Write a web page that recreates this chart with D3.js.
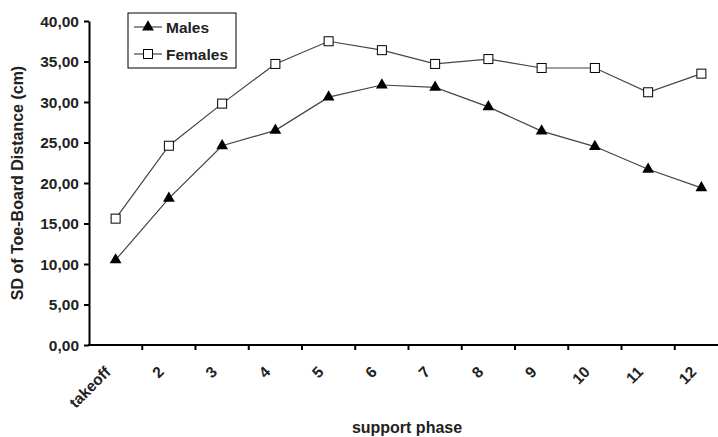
<!DOCTYPE html>
<html><head><meta charset="utf-8">
<script src="https://cdn.jsdelivr.net/npm/d3@7"></script>
<style>body{margin:0;background:#fff}svg{display:block}text{font-family:"Liberation Sans",Arial,sans-serif;font-weight:bold;fill:#222}</style>
</head><body><svg id="c" width="718" height="437"></svg>
<script>
const categories = ["takeoff","2","3","4","5","6","7","8","9","10","11","12"];
const males =   [10.5,18.1,24.6,26.5,30.6,32.1,31.8,29.4,26.4,24.5,21.7,19.4];
const females = [15.6,24.6,29.8,34.7,37.5,36.4,34.7,35.3,34.2,34.2,31.2,33.5];
const yTicks = [0,5,10,15,20,25,30,35,40];
const seriesNames = ["Males","Females"];

const svg = d3.select("#c");
const x0 = 89, bw = 53.25;
const x = d3.scaleBand().domain(categories).range([x0, x0 + bw*categories.length]);
const y = d3.scaleLinear().domain([0,40]).range([345,21]);
const fmt = d => d.toFixed(2).replace(".", ",");

// y axis
const ya = svg.append("g").attr("transform",`translate(${x0},0)`)
  .call(d3.axisLeft(y).tickValues(yTicks).tickSize(5).tickSizeOuter(0).tickFormat(fmt));
ya.select(".domain").attr("stroke","#000").attr("stroke-width",2);
ya.selectAll(".tick line").attr("stroke","#000").attr("stroke-width",2);
ya.selectAll(".tick text").attr("font-size",15.5).attr("x",-10).attr("dy","0.35em").attr("fill","#222")
  .attr("font-family","Liberation Sans, Arial").attr("font-weight","bold");

// x axis
const xa = svg.append("g").attr("transform","translate(0,345)");
xa.append("line").attr("x1",x0-1).attr("x2",718).attr("stroke","#000").attr("stroke-width",2);
xa.selectAll("line.t").data(categories.slice(1)).enter().append("line")
  .attr("x1",d=>x(d)).attr("x2",d=>x(d)).attr("y1",0).attr("y2",5).attr("stroke","#000").attr("stroke-width",2);
xa.selectAll("text").data(categories).enter().append("text")
  .attr("text-anchor","end").attr("font-size",15.5)
  .attr("transform",d=>`translate(${x(d)+x.bandwidth()/2-4},${28}) rotate(-45)`)
  .text(d=>d);

// titles
svg.append("text").attr("x",407).attr("y",433).attr("text-anchor","middle").attr("font-size",16).text("support phase");
svg.append("text").attr("transform","translate(23,183) rotate(-90)").attr("text-anchor","middle").attr("font-size",16).text("SD of Toe-Board Distance (cm)");

const cx = d => x(d) + x.bandwidth()/2;
const line = d3.line().x((d,i)=>cx(categories[i])).y(d=>y(d));

svg.append("path").datum(females).attr("d",line).attr("fill","none").attr("stroke","#444").attr("stroke-width",1.2);
svg.append("path").datum(males).attr("d",line).attr("fill","none").attr("stroke","#444").attr("stroke-width",1.2);

const tri = d3.symbol().type(d3.symbolTriangle).size(60);
svg.selectAll("path.m").data(males).enter().append("path")
  .attr("d",tri).attr("fill","#000")
  .attr("transform",(d,i)=>`translate(${cx(categories[i])},${y(d)})`);
svg.selectAll("rect.f").data(females).enter().append("rect")
  .attr("width",9).attr("height",9).attr("fill","#fff").attr("stroke","#000").attr("stroke-width",1)
  .attr("x",(d,i)=>cx(categories[i])-4.5).attr("y",d=>y(d)-4.5);

// legend
const lg = svg.append("g");
lg.append("rect").attr("x",128).attr("y",13).attr("width",108).attr("height",55).attr("fill","#fff").attr("stroke","#000").attr("stroke-width",1);
[0,1].forEach(i=>{
  const yy = 27 + i*27;
  lg.append("line").attr("x1",134).attr("x2",162).attr("y1",yy).attr("y2",yy).attr("stroke","#444").attr("stroke-width",1.2);
  if(i===0) lg.append("path").attr("d",tri).attr("fill","#000").attr("transform",`translate(148,${yy})`);
  else lg.append("rect").attr("x",143.5).attr("y",yy-4.5).attr("width",9).attr("height",9).attr("fill","#fff").attr("stroke","#000");
  lg.append("text").attr("x",166).attr("y",yy+5.5).attr("font-size",15.5).text(seriesNames[i]);
});
</script></body></html>
